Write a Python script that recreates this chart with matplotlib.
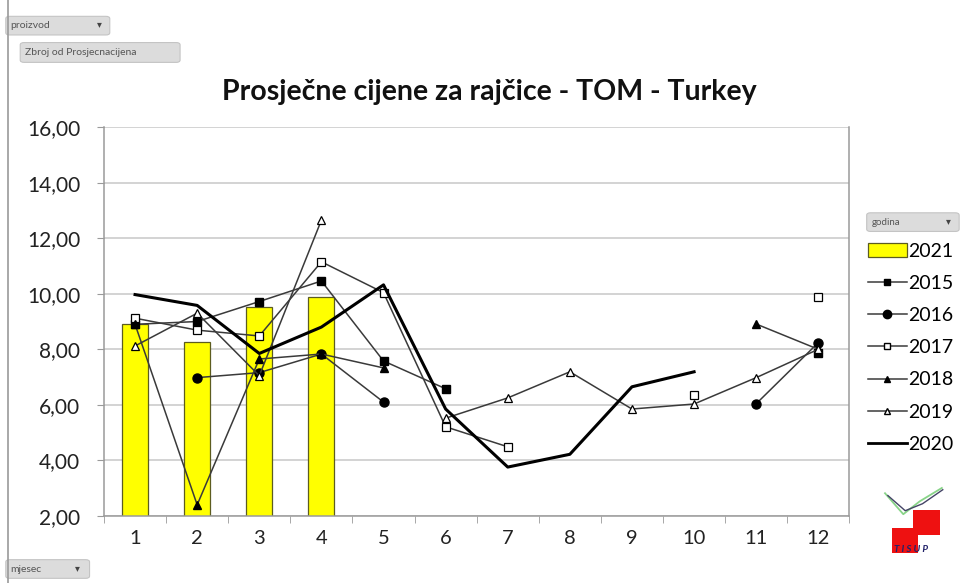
import numpy as np
import matplotlib.pyplot as plt
from matplotlib.patches import FancyBboxPatch, Rectangle
from matplotlib.lines import Line2D

plt.rcParams['font.family'] = ['Lato', 'DejaVu Sans']

nan = np.nan
months = [1, 2, 3, 4, 5, 6, 7, 8, 9, 10, 11, 12]

# 2021 bars (only first four months)
bar_months = [1, 2, 3, 4]
y2021 = [8.91, 8.26, 9.52, 9.88]

y2015 = [8.90, 9.00, 9.72, 10.46, 7.58, 6.58, nan, nan, nan, nan, nan, 7.87]
y2016 = [nan, 6.98, 7.16, 7.83, 6.10, nan, nan, nan, nan, nan, 6.04, 8.24]
y2017 = [9.12, 8.69, 8.48, 11.15, 10.04, 5.21, 4.49, nan, nan, 6.35, nan, 9.89]
y2018 = [8.90, 2.40, 7.65, 7.83, 7.33, nan, nan, nan, nan, nan, 8.91, 8.00]
y2019 = [8.12, 9.30, 7.05, 12.65, nan, 5.52, 6.25, 7.19, 5.85, 6.03, 6.98, 8.00]
y2020 = [9.97, 9.58, 7.85, 8.80, 10.32, 5.85, 3.76, 4.22, 6.65, 7.19, nan, nan]

yticks = [2, 4, 6, 8, 10, 12, 14, 16]
ytick_labels = ['2,00', '4,00', '6,00', '8,00', '10,00', '12,00', '14,00', '16,00']

fig = plt.figure(figsize=(9.63, 5.83), dpi=100)
ax = fig.add_axes([0.108, 0.115, 0.774, 0.667])

grid_c = '#c8c8c8'
line_c = '#3a3a3a'

ax.bar(bar_months, y2021, width=0.42, color='#ffff00', edgecolor='#5c5c20', linewidth=0.9, zorder=2, label='2021')

ax.plot(months, y2015, color=line_c, lw=1.1, marker='s', ms=5.5, mfc='black', mec='black', zorder=3, label='2015')
ax.plot(months, y2016, color=line_c, lw=1.1, marker='o', ms=6.5, mfc='black', mec='black', zorder=3, label='2016')
ax.plot(months, y2017, color=line_c, lw=1.1, marker='s', ms=6, mfc='white', mec='black', mew=0.9, zorder=3, label='2017')
ax.plot(months, y2018, color=line_c, lw=1.1, marker='^', ms=5.5, mfc='black', mec='black', zorder=3, label='2018')
ax.plot(months, y2019, color=line_c, lw=1.1, marker='^', ms=5.5, mfc='white', mec='black', mew=0.9, zorder=3, label='2019')
ax.plot(months, y2020, color='black', lw=2.2, zorder=4, label='2020')

ax.set_xlim(0.5, 12.5)
ax.set_ylim(2, 16)
ax.set_yticks(yticks)
ax.set_yticklabels(ytick_labels)
ax.set_xticks(months)
ax.set_xticks(np.arange(0.5, 13, 1), minor=True)
ax.tick_params(axis='x', which='major', length=0, pad=10, labelsize=14.5, labelcolor='#222222')
ax.tick_params(axis='x', which='minor', length=5, color='#9a9a9a', direction='out')
ax.tick_params(axis='y', length=5, color='#9a9a9a', labelsize=15, labelcolor='#222222', pad=12)
ax.grid(axis='y', color=grid_c, lw=1.1, zorder=0)
ax.set_axisbelow(True)
for s in ['left', 'bottom', 'right']:
    ax.spines[s].set_color('#9a9a9a')
    ax.spines[s].set_linewidth(1.1)
ax.spines['top'].set_visible(False)

fig.text(0.508, 0.842, 'Prosječne cijene za rajčice - TOM - Turkey', ha='center', va='center',
         fontsize=20.5, fontweight='bold', color='#111111')

# legend
handles = [Rectangle((0, 0), 1, 1, fc='#ffff00', ec='#5c5c20', lw=0.9)]
handles += [Line2D([], [], color=line_c, lw=1.1, marker='s', ms=5, mfc='black', mec='black'),
            Line2D([], [], color=line_c, lw=1.1, marker='o', ms=6, mfc='black', mec='black'),
            Line2D([], [], color=line_c, lw=1.1, marker='s', ms=5, mfc='white', mec='black'),
            Line2D([], [], color=line_c, lw=1.1, marker='^', ms=5, mfc='black', mec='black'),
            Line2D([], [], color=line_c, lw=1.1, marker='^', ms=5, mfc='white', mec='black'),
            Line2D([], [], color='black', lw=2.0)]
labels = ['2021', '2015', '2016', '2017', '2018', '2019', '2020']
fig.legend(handles, labels, loc='upper left', bbox_to_anchor=(0.893, 0.597), frameon=False,
           fontsize=14, handlelength=2.0, handletextpad=0.1, labelspacing=0.78, borderaxespad=0)

# pivot buttons
def button(x, y, w, h, text, fs=7.5):
    b = FancyBboxPatch((x, y), w, h, boxstyle='round,pad=0,rounding_size=0.004',
                       transform=fig.transFigure, fc='#dcdcdc', ec='#c4c4c4', lw=0.8)
    fig.patches.append(b)
    fig.text(x + 0.005, y + h / 2, text, fontsize=fs, color='#555555', va='center', ha='left')

button(0.006, 0.940, 0.108, 0.032, 'proizvod')
fig.text(0.103, 0.958, '▾', fontsize=7, color='#444444', ha='center', va='center')
button(0.021, 0.893, 0.166, 0.034, 'Zbroj od Prosjecnacijena')
button(0.900, 0.603, 0.096, 0.032, 'godina', fs=7)
fig.text(0.985, 0.620, '▾', fontsize=7, color='#444444', ha='center', va='center')
button(0.006, 0.008, 0.087, 0.032, 'mjesec')
fig.text(0.08, 0.024, '▾', fontsize=7, color='#444444', ha='center', va='center')

# left border line of the sheet
fig.add_artist(Line2D([0.008, 0.008], [0.0, 1.0], color='#9a9a9a', lw=1.2))

# TISUP logo
fig.patches.append(Rectangle((0.948, 0.082), 0.028, 0.043, transform=fig.transFigure, fc='#ee1111', ec='none'))
fig.patches.append(Rectangle((0.926, 0.052), 0.027, 0.042, transform=fig.transFigure, fc='#ee1111', ec='none'))
fig.add_artist(Line2D([0.919, 0.938, 0.955, 0.978], [0.154, 0.118, 0.140, 0.163], color='#88d488', lw=1.3))
fig.add_artist(Line2D([0.922, 0.940, 0.958, 0.979], [0.150, 0.124, 0.136, 0.160], color='#444466', lw=1.0))
fig.text(0.946, 0.058, 'T I S U P', fontsize=7, color='#22226a', ha='center', va='center',
         style='italic', fontweight='bold')

fig.savefig('out.png', dpi=100)
